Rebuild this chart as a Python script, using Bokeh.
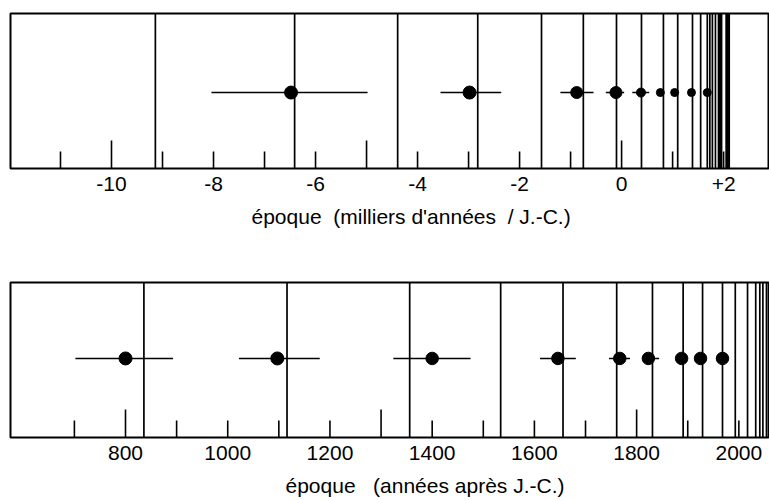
from bokeh.plotting import figure
from bokeh.layouts import column
from bokeh.models import Range1d, FixedTicker, Title, ColumnDataSource
from bokeh.embed import file_html
from bokeh.resources import INLINE

# ---------------- data: upper panel (thousands of years / J.-C.) ----------------
top_lines = [-9.14, -6.41, -4.39, -2.82, -1.57, -0.75, -0.10, 0.39, 0.82, 1.10,
             1.39, 1.55, 1.68, 1.73, 1.78, 1.84, 1.90, 1.92, 1.94, 1.96,
             2.05, 2.07, 2.09, 2.11]
top_pts = [-6.48, -2.98, -0.88, -0.11, 0.38, 0.76, 1.04, 1.37, 1.68]
top_lo = [-8.04, -3.55, -1.20, -0.31, 0.21, 0.76, 1.04, 1.37, 1.68]
top_hi = [-4.98, -2.36, -0.55, 0.05, 0.54, 0.76, 1.04, 1.37, 1.68]
top_size = [13, 13, 12, 12, 9, 8, 8, 8, 8]
top_major_ticks = [-10, -5, 0]
top_minor_ticks = [-11, -9, -8, -7, -6, -4, -3, -2, -1, 1, 2]
top_labels = [-10, -8, -6, -4, -2, 0, 2]
top_label_text = ["-10", "-8", "-6", "-4", "-2", "0", "+2"]

# ---------------- data: lower panel (years after J.-C.) ----------------
bot_lines = [836, 1116, 1356, 1534, 1656, 1761, 1831, 1891, 1929, 1968,
             1993, 2017, 2033, 2041, 2047, 2054]
bot_pts = [800, 1097, 1400, 1646, 1767, 1823, 1888, 1925, 1968]
bot_lo = [702, 1022, 1324, 1611, 1746, 1811, 1888, 1925, 1968]
bot_hi = [893, 1180, 1475, 1681, 1787, 1844, 1888, 1925, 1968]
bot_size = [13, 13, 12.5, 12.5, 12.5, 12.5, 12.5, 12.5, 12.5]
bot_major_ticks = [800, 1300, 1800]
bot_minor_ticks = [700, 900, 1000, 1100, 1200, 1400, 1500, 1600, 1700, 1900, 2000]
bot_labels = [800, 1000, 1200, 1400, 1600, 1800, 2000]
bot_label_text = ["800", "1000", "1200", "1400", "1600", "1800", "2000"]

FONT = "Liberation Sans"
LONG, SHORT = 0.18, 0.11


def panel(xr, lines, pts, lo, hi, sizes, major, minor, labels, label_text,
          title, title_off, gap, height, top, bottom, pt_y):
    p = figure(width=769, height=height, x_range=Range1d(*xr), y_range=Range1d(0, 1),
               output_backend="svg", toolbar_location=None, y_axis_location=None,
               min_border_left=10, min_border_right=1, min_border_top=top,
               min_border_bottom=bottom)
    p.grid.visible = False
    p.outline_line_color = "black"
    p.outline_line_width = 2
    p.background_fill_color = "white"
    p.border_fill_color = "white"

    ls = ColumnDataSource(dict(x=lines, y0=[0] * len(lines), y1=[1] * len(lines)))
    p.segment(x0="x", x1="x", y0="y0", y1="y1", source=ls, line_color="black", line_width=1.7)

    ticks = major + minor
    tl = [LONG] * len(major) + [SHORT] * len(minor)
    ts = ColumnDataSource(dict(x=ticks, y0=[0] * len(ticks), y1=tl))
    p.segment(x0="x", x1="x", y0="y0", y1="y1", source=ts, line_color="black", line_width=1.6)

    ps = ColumnDataSource(dict(x=pts, lo=lo, hi=hi, y=[pt_y] * len(pts), s=sizes))
    p.segment(x0="lo", x1="hi", y0="y", y1="y", source=ps, line_color="black", line_width=1.4)
    p.scatter(x="x", y="y", size="s", source=ps, fill_color="black", line_color="black")

    ax = p.xaxis[0]
    ax.ticker = FixedTicker(ticks=labels, minor_ticks=[])
    ax.major_label_overrides = dict(zip(labels, label_text))
    ax.major_tick_in = 0
    ax.major_tick_out = 0
    ax.minor_tick_in = 0
    ax.minor_tick_out = 0
    ax.axis_line_color = None
    ax.major_label_standoff = 8
    ax.major_label_text_font = FONT
    ax.major_label_text_font_size = "21px"
    ax.major_label_text_color = "black"
    # thin spacer between tick labels and the title
    ax.axis_label = " "
    ax.axis_label_text_font_size = "1px"
    ax.axis_label_standoff = gap

    t = Title(text=title, align="left", offset=title_off, text_font=FONT,
              text_font_size="21px", text_font_style="normal", text_color="black",
              standoff=0)
    p.add_layout(t, "below")
    return p


p1 = panel((-11.98, 2.88), top_lines, top_pts, top_lo, top_hi, top_size,
           top_major_ticks, top_minor_ticks, top_labels, top_label_text,
           "époque\u00a0\u00a0(milliers d'années\u00a0\u00a0/ J.-C.)", 241, 5,
           250, 13, 82, 0.49)
p2 = panel((575, 2058), bot_lines, bot_pts, bot_lo, bot_hi, bot_size,
           bot_major_ticks, bot_minor_ticks, bot_labels, bot_label_text,
           "époque\u00a0\u00a0\u00a0(années après J.-C.)", 275, 5,
           250, 32, 63, 0.51)

p = column(p1, p2, spacing=0)
open("out.html", "w").write(file_html(p, INLINE))
